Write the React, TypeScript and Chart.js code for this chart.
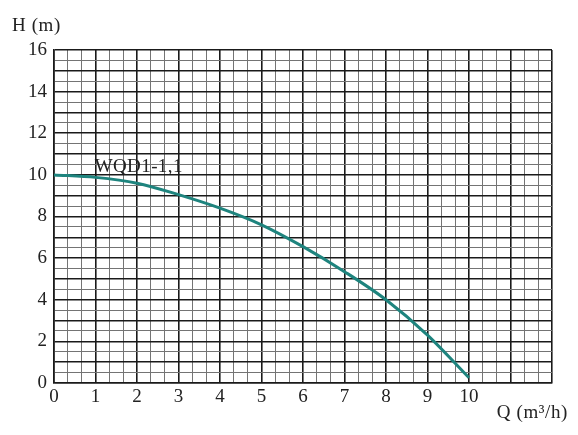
import React, { useEffect, useRef } from "react";
import { Chart, registerables } from "chart.js";

Chart.register(...registerables);

const flowQ = [0, 1, 2, 3, 4, 5, 6, 7, 8, 9, 10];
const headH = [10.0, 9.88, 9.6, 9.05, 8.4, 7.6, 6.55, 5.35, 4.0, 2.3, 0.25];
const xMax = 12;
const xLabelMax = 10;
const yMax = 16;
const curveName = "WQD1-1,1";
const yTitle = "H (m)";
const xTitle = "Q (m³/h)";

const FONT = "'Liberation Serif', 'Times New Roman', serif";

export default function App() {
  const ref = useRef<HTMLCanvasElement | null>(null);
  useEffect(() => {
    if (!ref.current) return;
    const textPlugin = {
      id: "texts",
      afterDraw(chart: any) {
        const ctx = chart.ctx;
        const xs = chart.scales.x;
        const ys = chart.scales.y;
        ctx.save();
        ctx.fillStyle = "#222";
        ctx.font = `19px ${FONT}`;
        try { (ctx as any).letterSpacing = "0.6px"; } catch (e) {}
        ctx.textBaseline = "alphabetic";
        ctx.textAlign = "left";
        ctx.fillText(yTitle, 12, 31);
        ctx.textAlign = "right";
        ctx.fillText(xTitle, 568, 418);
        try { (ctx as any).letterSpacing = "0.4px"; } catch (e) {}
        ctx.textAlign = "left";
        ctx.fillText(curveName, xs.getPixelForValue(0.98), ys.getPixelForValue(10.12));
        ctx.restore();
      },
    };
    const chart = new Chart(ref.current, {
      type: "line",
      data: {
        labels: flowQ,
        datasets: [
          {
            data: flowQ.map((q, i) => ({ x: q, y: headH[i] })),
            borderColor: "rgb(30,132,126)",
            borderWidth: 3,
            pointRadius: 0,
            cubicInterpolationMode: "monotone",
            fill: false,
          },
        ],
      },
      options: {
        animation: false,
        responsive: false,
        events: [],
        layout: { padding: { top: 50, right: 26, left: 0, bottom: 0 } },
        plugins: { legend: { display: false }, tooltip: { enabled: false } },
        scales: {
          x: {
            type: "linear",
            min: 0,
            max: xMax,
            afterBuildTicks(scale: any) {
              const t = [];
              for (let i = 0; i <= xMax * 3; i++) t.push({ value: i / 3 });
              scale.ticks = t;
            },
            afterFit(scale: any) {
              scale.height = 435 - 383;
            },
            ticks: {
              autoSkip: false,
              maxRotation: 0,
              padding: 3,
              color: "#222",
              font: { family: FONT, size: 19 },
              callback: (_v: any, index: number) =>
                index % 3 === 0 && index / 3 <= xLabelMax ? String(index / 3) : "",
            },
            grid: {
              drawTicks: false,
              color: (c: any) => (c.index % 3 === 0 ? "#1a1a1a" : "#747474"),
              lineWidth: (c: any) => (c.index % 3 === 0 ? 1.6 : 1),
            },
            border: { color: "#1a1a1a", width: 1.6 },
          },
          y: {
            type: "linear",
            min: 0,
            max: yMax,
            afterBuildTicks(scale: any) {
              const t = [];
              for (let i = 0; i <= yMax * 2; i++) t.push({ value: i / 2 });
              scale.ticks = t;
            },
            afterFit(scale: any) {
              scale.width = 54;
            },
            ticks: {
              autoSkip: false,
              padding: 7,
              color: "#222",
              font: { family: FONT, size: 19 },
              callback: (_v: any, index: number) => (index % 4 === 0 ? String(index / 2) : ""),
            },
            grid: {
              drawTicks: false,
              color: (c: any) => (c.index % 2 === 0 ? "#1a1a1a" : "#747474"),
              lineWidth: (c: any) => (c.index % 2 === 0 ? 1.6 : 1),
            },
            border: { color: "#1a1a1a", width: 1.6 },
          },
        },
      },
      plugins: [textPlugin],
    } as any);
    return () => chart.destroy();
  }, []);
  return (
    <div style={{ position: "fixed", left: 0, top: 0, width: 578, height: 435, background: "#fff" }}>
      <canvas ref={ref} width={578} height={435} style={{ width: 578, height: 435 }} />
    </div>
  );
}
